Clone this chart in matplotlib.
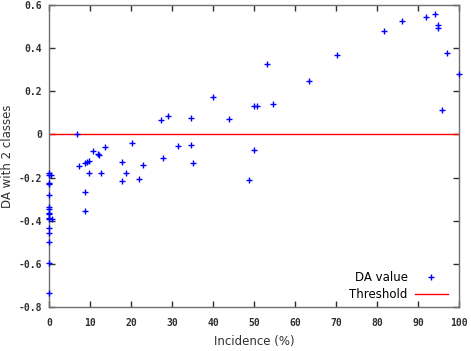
import numpy as np
import matplotlib
matplotlib.use('Agg')
import matplotlib.pyplot as plt

matplotlib.rcParams['axes.unicode_minus'] = False

## data
incidence = [0.0, 0.0, 0.0, 0.0, 0.0, 0.0, 0.0, 0.0, 0.0, 0.0, 0.0, 0.0, 0.0, 0.0, 0.0, 0.0,
             0.7, 0.5, 6.9,
             7.4, 8.9, 9.3, 9.8, 10.8, 12.0, 12.2, 13.6, 9.8, 12.8, 8.9, 8.9,
             17.9, 18.9, 17.9, 20.2, 22.9, 22.0, 27.4, 29.0, 27.9, 31.4,
             34.7, 34.7, 35.0, 40.1, 44.0,
             53.2, 50.0, 50.8, 54.6, 50.0, 48.9, 63.4, 70.3, 81.6, 86.1,
             92.0, 94.1, 94.9, 94.9, 97.1, 95.9, 100.0]
da_value = [-0.178, -0.19, -0.225, -0.228, -0.283, -0.336, -0.347, -0.364, -0.371, -0.387,
            -0.393, -0.432, -0.455, -0.499, -0.596, -0.733,
            -0.39, -0.19, 0.0,
            -0.145, -0.131, -0.126, -0.122, -0.077, -0.091, -0.095, -0.06, -0.18, -0.179, -0.266, -0.354,
            -0.128, -0.181, -0.216, -0.04, -0.14, -0.205, 0.067, 0.086, -0.108, -0.052,
            0.075, -0.049, -0.131, 0.174, 0.071,
            0.328, 0.131, 0.134, 0.142, -0.073, -0.212, 0.247, 0.367, 0.48, 0.525,
            0.543, 0.557, 0.508, 0.492, 0.379, 0.111, 0.28]
threshold = 0.0
x_ticks = np.arange(0, 101, 10)
y_ticks = [-0.8, -0.6, -0.4, -0.2, 0, 0.2, 0.4, 0.6]
y_tick_labels = ['-0.8', '-0.6', '-0.4', '-0.2', '0', '0.2', '0.4', '0.6']

fig = plt.figure(figsize=(4.71, 3.51), dpi=100)
ax = fig.add_axes([49/471, 1 - 307/351, 410/471, 302/351])

ax.plot(incidence, da_value, '+', color='#0000ff', markersize=4.5, markeredgewidth=1,
        label='DA value', clip_on=False, zorder=3)
ax.axhline(threshold, color='#ff0000', linewidth=1, label='Threshold')

ax.set_xlim([0, 100])
ax.set_ylim([-0.8, 0.6])
ax.set_xticks(x_ticks)
ax.set_yticks(y_ticks)
ax.set_yticklabels(y_tick_labels)

for sp in ax.spines.values():
    sp.set_color('#707070')
    sp.set_linewidth(1)
ax.tick_params(direction='in', top=True, right=True, length=4.5, width=1,
               color='#303030', labelsize=7)
ax.tick_params(axis='y', pad=5)
ax.tick_params(axis='x', pad=8)
for lab in ax.get_xticklabels() + ax.get_yticklabels():
    lab.set_family('DejaVu Sans Mono')
    lab.set_weight('bold')
    lab.set_color('#303030')

fig.text(254/471, 1 - 341/351, 'Incidence (%)', fontsize=8.5, color='#303030',
         ha='center', va='center')
fig.text(8/471, 1 - 156/351, 'DA with 2 classes', fontsize=8.5, color='#303030',
         ha='center', va='center', rotation=90)

ax.legend(loc='lower right', bbox_to_anchor=(448/471, 1 - 301/351),
          bbox_transform=fig.transFigure, frameon=False, markerfirst=False,
          fontsize=8.5, handlelength=2.8, handletextpad=0.6, borderpad=0,
          borderaxespad=0, labelspacing=0.35)

fig.savefig('out.png', dpi=100)
